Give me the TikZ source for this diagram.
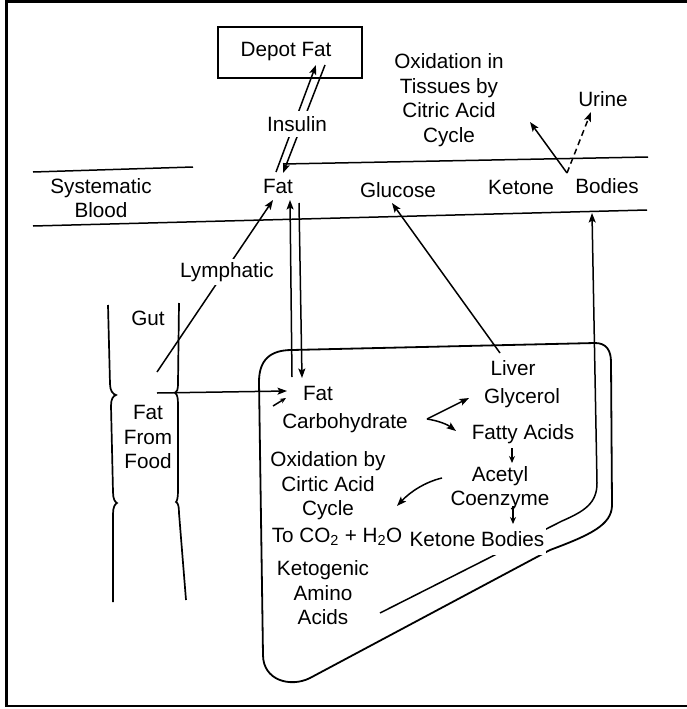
\documentclass[tikz,border=0pt]{standalone}
\usepackage{fontspec}
\setmainfont{Liberation Sans}
\usetikzlibrary{arrows.meta}
\begin{document}
\begin{tikzpicture}[x=1pt,y=-1pt,
  lbl/.style={font=\fontsize{20.7}{24.5}\selectfont, align=center, inner sep=1pt},
  wl/.style={lbl, fill=white},
  ln/.style={line width=1.5pt},
  arr/.style={ln, -{Stealth[length=9.5pt,width=7pt,inset=2pt]}},
  wall/.style={line width=1.7pt},
  boxline/.style={line width=1.8pt, line join=round},
]
\useasboundingbox (0,0) rectangle (686,709);
\draw[line width=2.5pt] (6.5,1.5) rectangle (689,706);

% ---- blood vessel lines
\coordinate (ub1) at (33,172); \coordinate (ub2) at (193,167);
\coordinate (ub3) at (283,164); \coordinate (ub4) at (648,157);
\coordinate (lb1) at (33,226); \coordinate (lb2) at (647,210);
\draw[ln] (ub1) -- (ub2);
\draw[ln] (ub3) -- (ub4);
\draw[ln] (lb1) -- (lb2);

% ---- gut walls
\draw[wall] (108,305) -- (110,384) .. controls (110,391) and (113,394) .. (116,395)
  .. controls (113,396) and (111,399) .. (111,406) -- (113,492)
  .. controls (113,499) and (115,502) .. (117,503)
  .. controls (115,504) and (113,507) .. (113,514) -- (113,602);
\draw[wall] (179,303) -- (178,383) .. controls (178,390) and (177,392) .. (175,393)
  .. controls (177,394) and (178,397) .. (178,404) -- (178,491)
  .. controls (178,498) and (177,501) .. (176,502)
  .. controls (178,503) and (179,506) .. (179,513) -- (186,600);

% ---- liver outline
\draw[boxline] (292,350) -- (595,343) .. controls (606,343) and (611,350) .. (611,362)
  -- (612,505) .. controls (612,525) and (590,535) .. (550,550)
  -- (310,678) .. controls (290,688) and (263,680) .. (263,655)
  -- (259,382) .. controls (259,360) and (270,350) .. (292,350);

% ---- nodes
\node[lbl, draw, line width=1.5pt, minimum width=144pt, minimum height=51pt] (depot) at (290,52.5) {};
\node[lbl] (depottxt) at (286,52) {Depot Fat};
\node[lbl] (oxtis) at (449,100) {Oxidation in\\Tissues by\\Citric Acid\\Cycle};
\node[lbl] (urine) at (603,99) {Urine};
\node[lbl] (sysblood) at (101,198) {Systematic\\Blood};
\node[lbl] (fatb) at (278,186) {Fat};
\node[lbl] (glucose) at (398,190) {Glucose};
\node[lbl] (ketone) at (521,187) {Ketone};
\node[lbl] (bodies) at (607,186) {Bodies};
\node[lbl] (gut) at (148,318) {Gut};
\node[lbl] (fff) at (148,437) {Fat\\From\\Food};
\node[lbl] (fatl) at (318,393) {Fat};
\node[lbl] (carb) at (345,423) {Carbohydrate};
\node[lbl] (liver) at (513,368) {Liver};
\node[lbl] (glyc) at (522,398) {Glycerol};
\node[lbl] (fatty) at (523,434) {Fatty Acids};
\node[lbl] (acetyl) at (500,488) {Acetyl\\Coenzyme};
\node[lbl] (oxcit) at (328,486) {Oxidation by\\Cirtic Acid\\Cycle};
\node[lbl] (toco) at (337,537) {To CO\textsubscript{2} + H\textsubscript{2}O};
\node[lbl] (ketoam) at (323,593) {Ketogenic\\Amino\\Acids};

% ---- inner return line (ketone bodies back to blood)
\coordinate (in0) at (380,613);
\coordinate (in1) at (562,521);
\coordinate (in2) at (597,483);
\coordinate (inend) at (592,213);
\draw[arr] (in0) -- (in1) .. controls (585,511) and (597,503) .. (in2) -- (inend);

\node[lbl, fill=white, inner xsep=2pt, inner ysep=8pt] (ketob) at (477,539) {Ketone Bodies};

% ---- depot fat <-> blood fat
\coordinate (dA) at (276,172); \coordinate (dB) at (316,65);
\coordinate (dC) at (325,65);  \coordinate (dD) at (283,173);
\draw[arr] (dA) -- (dB);
\draw[arr] (dC) -- (dD);
\node[wl, inner ysep=5pt] (insulin) at (297,124) {Insulin};

% ---- blood fat <-> liver fat
\coordinate (fA) at (292,377); \coordinate (fB) at (290,200);
\coordinate (fC) at (299,203); \coordinate (fD) at (302,378);
\draw[arr] (fA) -- (fB);
\draw[arr] (fC) -- (fD);

% ---- lymphatic
\coordinate (lyA) at (157,372); \coordinate (lyB) at (273,200);
\draw[arr] (lyA) -- (lyB);
\node[wl, inner ysep=3pt] (lymph) at (227,272) {Lymphatic};

% ---- gut to liver fat
\coordinate (gA) at (157,393); \coordinate (gB) at (287,391);
\draw[arr] (gA) -- (gB);
\coordinate (sA) at (273,406); \coordinate (sB) at (286,398);
\draw[ln, -{Stealth[length=6pt,width=5pt]}] (sA) -- (sB);

% ---- liver internal arrows
\coordinate (cA) at (427,419);
\coordinate (cG) at (469,398);
\coordinate (cF) at (456,431);
\draw[arr] (cA) -- (cG);
\draw[arr] (cA) .. controls (440,421) and (448,425) .. (cF);
\coordinate (faA) at (512,448); \coordinate (faB) at (512,463);
\draw[ln, -{Stealth[length=7pt,width=6pt]}] (faA) -- (faB);
\coordinate (coA) at (513,506); \coordinate (coB) at (513,524);
\draw[ln, -{Stealth[length=7pt,width=6pt]}] (coA) -- (coB);
\coordinate (acA) at (442,478); \coordinate (acB) at (397,506);
\draw[arr] (acA) .. controls (425,482) and (410,492) .. (acB);

% ---- liver to glucose
\coordinate (lvA) at (500,353); \coordinate (lvB) at (392,203);
\draw[arr] (lvA) -- (lvB);

% ---- ketone bodies out
\coordinate (kA) at (567,173); \coordinate (kB) at (530,122); \coordinate (kC) at (591,112);
\draw[arr] (kA) -- (kB);
\draw[arr, dashed, dash pattern=on 6pt off 4pt] (kA) -- (kC);
\end{tikzpicture}
\end{document}
